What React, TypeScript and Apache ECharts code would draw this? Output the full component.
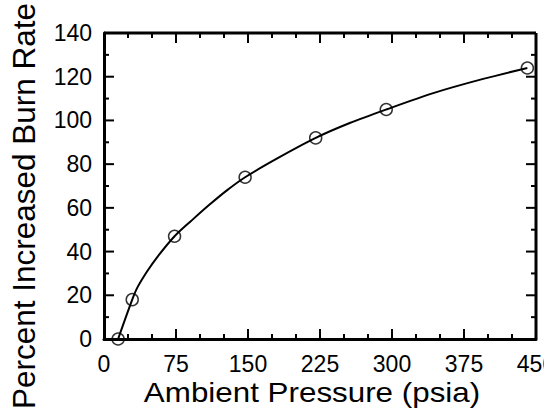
import React, { useEffect, useRef } from "react";
import * as echarts from "echarts";

// measured data points
const pressurePsia = [14.7, 29.4, 73.5, 147, 220.5, 294, 441];
const burnRateIncrease = [0, 18, 47, 74, 92, 105, 124];
// fitted curve
const curvePressure = [14.7, 29.4, 34.7, 45, 55.5, 73.5, 92, 110, 128, 147, 180, 220.5, 256, 294, 343, 395, 441];
const curveRate = [0, 18, 23.5, 31, 37.5, 47, 54.5, 61.5, 68, 74, 82.5, 92, 98.8, 105, 112.5, 119, 124];
// axis ticks
const xMajorTicks = [0, 75, 150, 225, 300, 375, 450];
const xMinorTicks = [25, 50, 100, 125, 175, 200, 250, 275, 325, 350, 400, 425];
const yMajorTicks = [0, 20, 40, 60, 80, 100, 120, 140];
const yMinorTicks = [10, 30, 50, 70, 90, 110, 130];
const xTitle = "Ambient Pressure (psia)";
const yTitle = "Percent Increased Burn Rate";

const X_MIN = 0;
const X_MAX = 450;
const Y_MIN = 0;
const Y_MAX = 140;

const FONT = "'Liberation Sans', Arial, sans-serif";

export default function App() {
  const ref = useRef<HTMLDivElement>(null);
  useEffect(() => {
    if (!ref.current) return;
    document.body.style.margin = "0";
    document.body.style.overflow = "hidden";
    document.documentElement.style.overflow = "hidden";
    const chart = echarts.init(ref.current, null, { renderer: "svg" });
    const points = pressurePsia.map((x, i) => [x, burnRateIncrease[i]]);
    const curve = curvePressure.map((x, i) => [x, curveRate[i]]);

    chart.setOption({
      animation: false,
      backgroundColor: "#fff",
      grid: {
        left: 104,
        right: 24,
        top: 33,
        bottom: 79,
        containLabel: false,
      },
      xAxis: {
        type: "value",
        min: X_MIN,
        max: X_MAX,
        interval: 75,
        axisLine: { show: true, lineStyle: { color: "#000", width: 3 } },
        axisTick: { show: false },
        splitLine: { show: false },
        axisLabel: {
          color: "#000",
          fontSize: 23,
          fontFamily: FONT,
          margin: 13,
          showMaxLabel: true,
          showMinLabel: true,
        },
      },
      yAxis: {
        type: "value",
        min: Y_MIN,
        max: Y_MAX,
        interval: 20,
        axisLine: { show: true, lineStyle: { color: "#000", width: 3 } },
        axisTick: { show: false },
        splitLine: { show: false },
        axisLabel: {
          color: "#000",
          fontSize: 23,
          fontFamily: FONT,
          margin: 12,
        },
      },
      series: [
        {
          type: "line",
          data: curve,
          smooth: 0.3,
          showSymbol: false,
          symbol: "none",
          lineStyle: { color: "#000", width: 2 },
          clip: false,
          z: 2,
        },
        {
          type: "scatter",
          data: points,
          symbol: "circle",
          symbolSize: 12,
          itemStyle: { color: "rgba(0,0,0,0)", borderColor: "#000", borderWidth: 1.5 },
          clip: false,
          z: 3,
        },
      ],
    });

    // ticks and frame placed through the chart's own scales
    const px = (x: number, y: number) => chart.convertToPixel({ gridIndex: 0 }, [x, y]) as number[];
    const tickStyle = { stroke: "#000", lineWidth: 2 };
    const elements: any[] = [];
    const addX = (v: number, len: number) => {
      const b = px(v, Y_MIN);
      const t = px(v, Y_MAX);
      elements.push({ type: "line", z: 50, shape: { x1: b[0], y1: b[1], x2: b[0], y2: b[1] - len }, style: tickStyle });
      elements.push({ type: "line", z: 50, shape: { x1: t[0], y1: t[1], x2: t[0], y2: t[1] + len }, style: tickStyle });
    };
    const addY = (v: number, len: number) => {
      const l = px(X_MIN, v);
      const r = px(X_MAX, v);
      elements.push({ type: "line", z: 50, shape: { x1: l[0], y1: l[1], x2: l[0] + len, y2: l[1] }, style: tickStyle });
      elements.push({ type: "line", z: 50, shape: { x1: r[0], y1: r[1], x2: r[0] - len, y2: r[1] }, style: tickStyle });
    };
    xMajorTicks.forEach((v) => addX(v, 10));
    xMinorTicks.forEach((v) => addX(v, 5));
    yMajorTicks.forEach((v) => addY(v, 10));
    yMinorTicks.forEach((v) => addY(v, 5));
    const tl = px(X_MIN, Y_MAX);
    const tr = px(X_MAX, Y_MAX);
    const br = px(X_MAX, Y_MIN);
    const frameStyle = { stroke: "#000", lineWidth: 3 };
    elements.push({ type: "line", z: 50, shape: { x1: tl[0], y1: tl[1], x2: tr[0], y2: tr[1] }, style: frameStyle });
    elements.push({ type: "line", z: 50, shape: { x1: tr[0], y1: tr[1], x2: br[0], y2: br[1] }, style: frameStyle });

    chart.setOption({
      graphic: [
        {
          type: "text",
          x: 312,
          y: 392,
          scaleX: 1.12,
          style: {
            text: xTitle,
            fontSize: 28,
            fontFamily: FONT,
            fill: "#000",
            align: "center",
            verticalAlign: "middle",
          },
        },
        {
          type: "text",
          x: 24,
          y: 206,
          rotation: Math.PI / 2,
          style: {
            text: yTitle,
            fontSize: 31.5,
            fontFamily: FONT,
            fill: "#000",
            align: "center",
            verticalAlign: "middle",
          },
        },
        ...elements,
      ],
    });
    return () => chart.dispose();
  }, []);
  return <div ref={ref} style={{ width: 560, height: 418 }} />;
}
